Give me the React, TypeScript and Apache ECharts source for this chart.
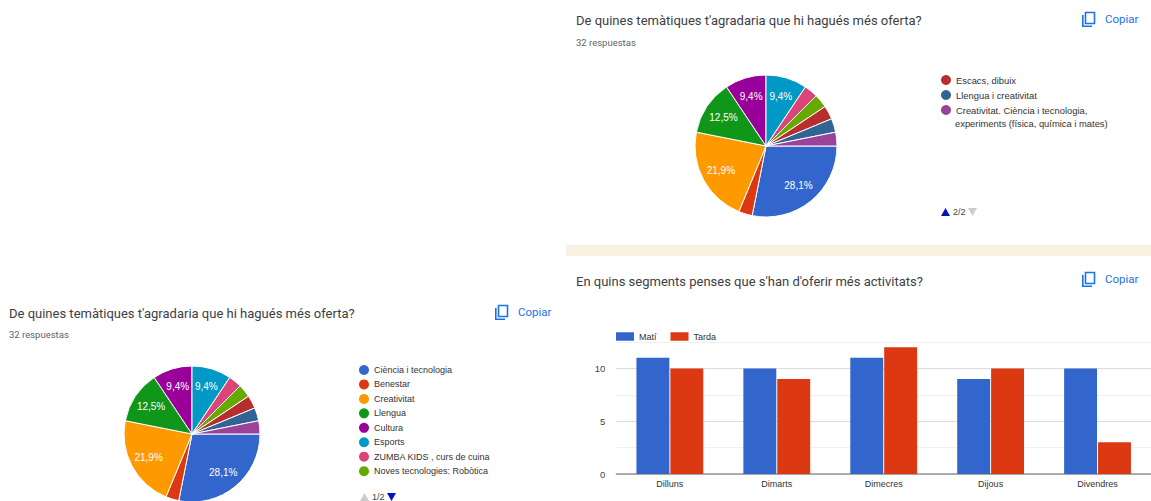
import React, { useEffect, useRef } from "react";
import * as echarts from "echarts";

const topicNames = [
  "Ciència i tecnologia", "Benestar", "Creativitat", "Llengua", "Cultura", "Esports",
  "ZUMBA KIDS , curs de cuina", "Noves tecnologies: Robòtica", "Escacs, dibuix",
  "Llengua i creativitat", "Creativitat. Ciència i tecnologia,\nexperiments (física, química i mates)",
];
const topicValues = [9, 1, 7, 4, 3, 3, 1, 1, 1, 1, 1];
const topicColors = ["#3366cc", "#dc3912", "#ff9900", "#109618", "#990099", "#0099c6", "#dd4477", "#66aa00", "#b82e2e", "#316395", "#994499"];
const days = ["Dilluns", "Dimarts", "Dimecres", "Dijous", "Divendres"];
const mati = [11, 10, 11, 9, 10];
const tarda = [10, 9, 12, 10, 3];
const pieTitle = "De quines temàtiques t'agradaria que hi hagués més oferta?";
const barTitle = "En quins segments penses que s'han d'oferir més activitats?";
const answers = "32 respuestas";
const copyLabel = "Copiar";

const FONT = "Roboto, Arial, sans-serif";
const LEGEND_FONT = "'Liberation Sans', Arial, sans-serif";
const total = topicValues.reduce((a, b) => a + b, 0);

function pie(cx: number, cy: number, r: number) {
  return {
    type: "pie",
    center: [cx, cy],
    radius: [0, r],
    startAngle: 0,
    clockwise: true,
    silent: true,
    itemStyle: { borderColor: "#fff", borderWidth: 1 },
    labelLine: { show: false },
    label: { show: true, position: "inside", color: "#fff", fontSize: 10, fontFamily: LEGEND_FONT },
    labelLayout: (p: any) => ({
      x: cx + (p.labelRect.x + p.labelRect.width / 2 - cx) * 1.33,
      y: cy + (p.labelRect.y + p.labelRect.height / 2 - cy) * 1.33,
      align: "center",
      verticalAlign: "middle",
    }),
    data: topicNames.map((name, i) => ({
      name,
      value: topicValues[i],
      itemStyle: { color: topicColors[i] },
      label: {
        show: topicValues[i] / total > 0.05,
        formatter: ((topicValues[i] / total) * 100).toFixed(1).replace(".", ",") + "%",
      },
    })),
  };
}

function headText(x: number, y: number, text: string) {
  return { type: "text", x, y, style: { text, fill: "#3c4043", font: `13px ${FONT}`, textVerticalAlign: "middle" } };
}
function subText(x: number, y: number, text: string) {
  return { type: "text", x, y, style: { text, fill: "#5f6368", font: `9.5px ${FONT}`, textVerticalAlign: "middle" } };
}
function copyButton(x: number, y: number) {
  const blue = "#1a73e8";
  return {
    type: "group",
    x,
    y,
    children: [
      { type: "rect", shape: { x: 3.5, y: 0.5, width: 9, height: 11 }, style: { fill: "none", stroke: blue, lineWidth: 1.6 } },
      { type: "polyline", shape: { points: [[0.8, 3], [0.8, 14.2], [10, 14.2]] }, style: { fill: "none", stroke: blue, lineWidth: 1.6 } },
      { type: "text", x: 23, y: 7, style: { text: copyLabel, fill: blue, font: `11.5px ${FONT}`, textVerticalAlign: "middle" } },
    ],
  };
}
function pager(x: number, y: number, text: string, upOn: boolean) {
  const on = "#0011cc";
  const off = "#cccccc";
  return {
    type: "group",
    x,
    y,
    children: [
      { type: "polygon", shape: { points: [[0, 4], [9, 4], [4.5, -4]] }, style: { fill: upOn ? on : off } },
      { type: "text", x: 12, y: 0, style: { text, fill: "#444", font: `9px ${LEGEND_FONT}`, textVerticalAlign: "middle" } },
      { type: "polygon", shape: { points: [[27, -4], [36, -4], [31.5, 4]] }, style: { fill: upOn ? off : on } },
    ],
  };
}

export default function App() {
  const ref = useRef<HTMLDivElement>(null);
  useEffect(() => {
    document.body.style.margin = "0";
    const chart = echarts.init(ref.current!, undefined, { renderer: "svg" });
    const legendText = { fontSize: 9, color: "#333", fontFamily: LEGEND_FONT };
    const firstLine = (name: string) => name.split("\n")[0];
    chart.setOption({
      animation: false,
      backgroundColor: "#fff",
      legend: [
        {
          left: 359, top: 365, orient: "vertical", icon: "circle", itemWidth: 10, itemHeight: 10, itemGap: 4.45,
          data: topicNames.slice(0, 8), textStyle: legendText, selectedMode: false, padding: 0, itemStyle: { borderWidth: 0 },
        },
        {
          left: 941, top: 75, orient: "vertical", icon: "circle", itemWidth: 10, itemHeight: 10, itemGap: 5,
          data: topicNames.slice(8), formatter: firstLine, textStyle: { ...legendText, fontSize: 9.4 }, selectedMode: false, padding: 0, itemStyle: { borderWidth: 0 },
        },
        {
          left: 616, top: 332, itemWidth: 18, itemHeight: 8.5, itemGap: 14, icon: "rect",
          data: ["Matí", "Tarda"], textStyle: legendText, selectedMode: false, padding: 0, itemStyle: { borderWidth: 0 },
        },
      ],
      grid: { left: 616.4, top: 342, width: 536.5, height: 132, containLabel: false },
      xAxis: {
        type: "category", data: days,
        axisTick: { show: false },
        axisLine: { lineStyle: { color: "#999", width: 1.5 } },
        axisLabel: { color: "#333", fontSize: 9, fontFamily: LEGEND_FONT, margin: 5 },
      },
      yAxis: {
        type: "value", min: 0, max: 12.5, interval: 2.5,
        axisLine: { show: false }, axisTick: { show: false },
        axisLabel: {
          color: "#444", fontSize: 9.5, fontFamily: LEGEND_FONT, margin: 11,
          formatter: (v: number) => (v % 5 === 0 ? String(v) : ""),
        },
        splitLine: { lineStyle: { color: ["#ccc", "#f0f0f0", "#dcdcdc", "#f0f0f0", "#dcdcdc", "#f0f0f0"], width: 1 } },
      },
      series: [
        pie(192, 434, 68),
        pie(766, 146, 71),
        { type: "bar", name: "Matí", data: mati, barCategoryGap: "37.5%", barGap: "3%", silent: true, itemStyle: { color: "#3366cc" } },
        { type: "bar", name: "Tarda", data: tarda, silent: true, itemStyle: { color: "#dc3912" } },
      ],
      graphic: [
        { type: "rect", shape: { x: 566, y: 245, width: 585, height: 11 }, style: { fill: "#f8f0e0" } },
        headText(576, 20, pieTitle),
        subText(576, 42, answers),
        copyButton(1082, 12),
        { type: "text", x: 955, y: 123, style: { text: topicNames[10].split("\n")[1], fill: "#333", font: `9.4px ${LEGEND_FONT}`, textVerticalAlign: "middle" } },
        pager(941, 212, "2/2", true),
        headText(576, 281, barTitle),
        copyButton(1082, 272),
        headText(9, 313, pieTitle),
        subText(9, 334, answers),
        copyButton(495, 305),
        pager(360, 497, "1/2", false),
      ],
    });
    return () => chart.dispose();
  }, []);
  return <div ref={ref} style={{ position: "absolute", left: 0, top: 0, width: 1151, height: 501 }} />;
}
